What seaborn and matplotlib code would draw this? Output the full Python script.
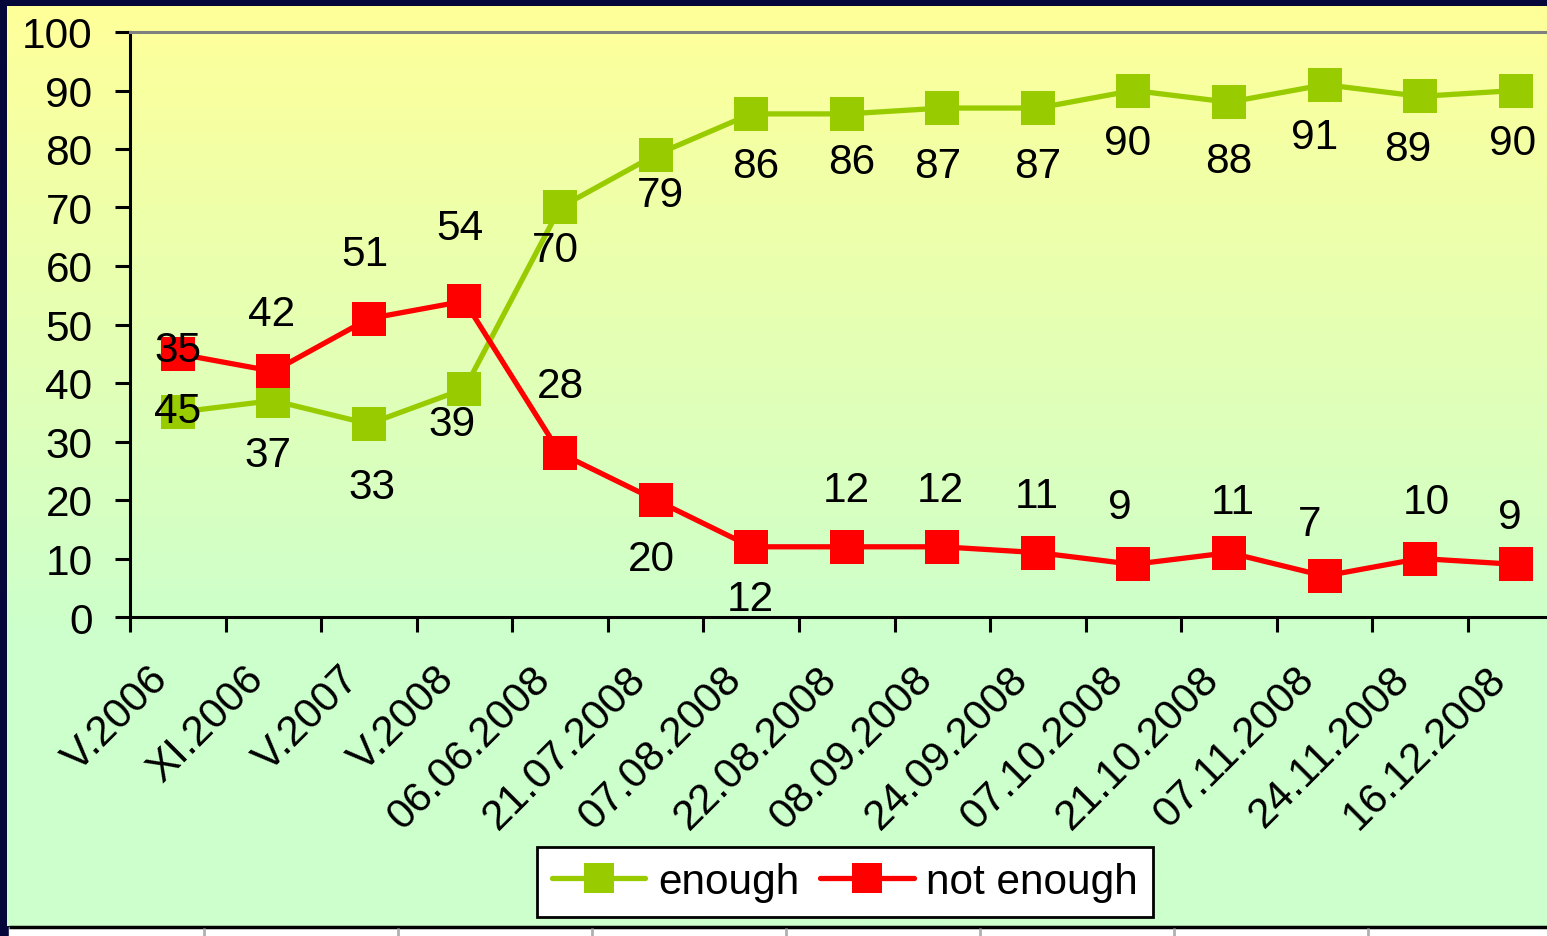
import numpy as np
import pandas as pd
import matplotlib
matplotlib.use('Agg')
import matplotlib.pyplot as plt
import matplotlib.transforms as mtrans
from matplotlib.lines import Line2D
from matplotlib.patches import Rectangle
import seaborn as sns

sns.set_style("ticks")
plt.rcParams['font.family'] = ['Liberation Sans', 'DejaVu Sans']
plt.rcParams['text.color'] = 'black'
plt.rcParams['xtick.color'] = 'black'
plt.rcParams['ytick.color'] = 'black'
plt.rcParams['xtick.labelcolor'] = 'black'
plt.rcParams['ytick.labelcolor'] = 'black'

# data
dates = ['V.2006', 'XI.2006', 'V.2007', 'V.2008', '06.06.2008', '21.07.2008',
         '07.08.2008', '22.08.2008', '08.09.2008', '24.09.2008', '07.10.2008',
         '21.10.2008', '07.11.2008', '24.11.2008', '16.12.2008']
enough = [35, 37, 33, 39, 70, 79, 86, 86, 87, 87, 90, 88, 91, 89, 90]
not_enough = [45, 42, 51, 54, 28, 20, 12, 12, 12, 11, 9, 11, 7, 10, 9]
# the printed labels (the first pair is swapped in the original)
enough_labels = ['45', '37', '33', '39', '70', '79', '86', '86', '87', '87', '90', '88', '91', '89', '90']
not_enough_labels = ['35', '42', '51', '54', '28', '20', '12', '12', '12', '11', '9', '11', '7', '10', '9']

# label offsets in pixels (dx, dy down)
enough_off = [(0, -1), (-5, 54), (3, 63), (-12, 35), (-5, 43), (5, 40), (4, 52), (5, 48),
              (-5, 58), (0, 58), (-6, 53), (0, 59), (-10, 52), (-12, 53), (-3, 53)]
not_enough_off = [(0, -4), (-2, -57), (-4, -65), (-5, -73), (0, -67), (-4, 59), (-1, 52),
                  (0, -57), (-2, -57), (-1, -57), (-14, -57), (4, -51), (-15, -52), (6, -56), (-6, -47)]

colors = {'enough': '#99CC00', 'not enough': '#FF0000'}

df = pd.concat([
    pd.DataFrame({'date': dates, 'value': enough, 'series': 'enough'}),
    pd.DataFrame({'date': dates, 'value': not_enough, 'series': 'not enough'}),
])

W, H = 1547, 937
fig = plt.figure(figsize=(W / 100, H / 100), dpi=100)

# slide background
bg = fig.add_axes([0, 0, 1, 1])
bg.set_zorder(-10)
bg.axis('off')
bg.add_patch(Rectangle((0, 0), W, H, color='#05073a', zorder=-5))
top = np.array([255, 255, 153]) / 255
bot = np.array([204, 255, 204]) / 255
t = np.clip(np.linspace(0, 1.45, 300), 0, 1)[:, None]
grad = (top * (1 - t) + bot * t)[:, None, :]
bg.imshow(grad, extent=[7, W, 927, 7], aspect='auto', interpolation='bilinear', zorder=-4)
bg.add_patch(Rectangle((9, 928), W, 10, color='white', zorder=-3))
bg.hlines(928, 9, W, color='black', lw=2.5)
bg.vlines(np.arange(204, W, 194), 929, H, color='#b0b0b0', lw=2)
bg.set_xlim(0, W)
bg.set_ylim(H, 0)

# chart
ax = fig.add_axes([130 / W, 1 - 618 / H, 1 - 130 / W, 585 / H])
ax.patch.set_alpha(0)
sns.lineplot(data=df, x='date', y='value', hue='series', hue_order=['enough', 'not enough'],
             palette=colors, marker='s', markersize=25, markeredgewidth=0, linewidth=3.8,
             sort=False, legend=False, ax=ax)

ax.set_xlim(-0.5, -0.5 + (W - 130) / 95.57)
ax.set_ylim(0, 100)
ax.set_xlabel('')
ax.set_ylabel('')
ax.set_yticks(range(0, 101, 10))
ax.set_xticks(range(len(dates)))
ax.set_xticklabels(dates, rotation=45, ha='right', va='center', rotation_mode='anchor')
ax.set_xticks(np.arange(-0.5, len(dates) - 1, 1), minor=True)
ax.tick_params(axis='x', which='major', length=0, pad=40, labelsize=30.5)
ax.tick_params(axis='x', which='minor', length=11, width=2.2, direction='out', color='black')
ax.tick_params(axis='y', length=11, width=2.2, direction='out', pad=16, labelsize=30.5, color='black')
for s in ['left', 'bottom']:
    ax.spines[s].set_color('black')
    ax.spines[s].set_linewidth(2.2)
ax.spines['top'].set_visible(True)
ax.spines['top'].set_color('#808080')
ax.spines['top'].set_linewidth(2.2)
ax.spines['right'].set_visible(False)

off = mtrans.ScaledTranslation(-16 / 100, 0, fig.dpi_scale_trans)
for lab in ax.get_xticklabels():
    lab.set_transform(lab.get_transform() + off)

for vals, labs, offs in [(enough, enough_labels, enough_off),
                         (not_enough, not_enough_labels, not_enough_off)]:
    for i, (v, txt, (dx, dy)) in enumerate(zip(vals, labs, offs)):
        ax.annotate(txt, (i, v), xytext=(dx, -dy), textcoords='offset pixels',
                    ha='center', va='center', fontsize=30.5, color='black',
                    annotation_clip=False, zorder=5)

handles = [Line2D([], [], color=colors[k], lw=3.8, marker='s', markersize=21, markeredgewidth=0)
           for k in ['enough', 'not enough']]
leg = fig.legend(handles, ['enough', 'not enough'], loc='center',
                 bbox_to_anchor=(845 / W, 1 - 883 / H), ncol=2, fontsize=30.5,
                 frameon=True, fancybox=False, edgecolor='black', framealpha=1,
                 handlelength=2.2, handletextpad=0.3, columnspacing=0.5, borderpad=0.35)
leg.get_frame().set_linewidth(2)
for txt in leg.get_texts():
    txt.set_color('black')

fig.savefig('out.png', dpi=100)
